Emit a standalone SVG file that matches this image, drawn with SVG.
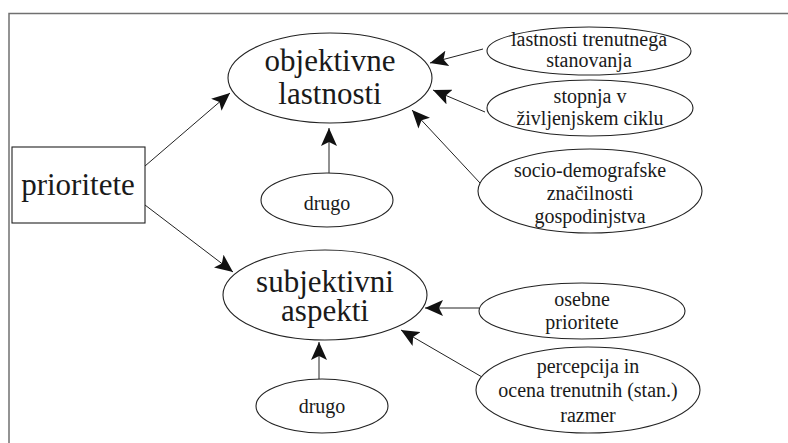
<svg xmlns="http://www.w3.org/2000/svg" width="788" height="443" viewBox="0 0 788 443">
<style>
.n{fill:#fff;stroke:#222;stroke-width:1.1}
.big{font-size:31px}
.sm{font-size:20px}
.c{stroke:#222;stroke-width:1;fill:none;marker-end:url(#ah)}
</style>
<defs>
<marker id="ah" markerUnits="userSpaceOnUse" markerWidth="18" markerHeight="16" refX="18" refY="8" orient="auto">
<path d="M0,0 L18,8 L0,16 L4,8 z" fill="#111"/>
</marker>
</defs>
<rect width="788" height="443" fill="#fff"/>
<g id="frame" stroke="#707070" stroke-width="1.5" fill="none">
<path d="M9,443 V13.5 H788"/>
</g>
<g id="connectors">
<line class="c" x1="145" y1="166" x2="230" y2="93"/>
<line class="c" x1="145" y1="205" x2="233" y2="272"/>
<line class="c" x1="329" y1="173" x2="329" y2="128"/>
<line class="c" x1="483" y1="49" x2="430" y2="63"/>
<line class="c" x1="485" y1="112" x2="433" y2="90"/>
<line class="c" x1="480" y1="183" x2="412" y2="110"/>
<line class="c" x1="319" y1="379" x2="319" y2="342"/>
<line class="c" x1="479" y1="308" x2="425" y2="308"/>
<line class="c" x1="482" y1="377" x2="401" y2="330"/>
</g>
<g font-family="Liberation Serif, Times New Roman, Times, serif" fill="#1a1a1a" text-anchor="middle">
<g id="prioritete">
<rect class="n" x="12" y="147" width="133" height="76"/>
<text class="big" x="78" y="195">prioritete</text>
</g>
<g id="objektivne">
<ellipse class="n" cx="330" cy="78" rx="102" ry="45"/>
<text class="big" x="330" y="71">objektivne</text>
<text class="big" x="330" y="104">lastnosti</text>
</g>
<g id="drugo1">
<ellipse class="n" cx="327" cy="200" rx="66" ry="27"/>
<text class="sm" x="327" y="210">drugo</text>
</g>
<g id="lastnosti">
<ellipse class="n" cx="589" cy="51" rx="102" ry="24"/>
<text class="sm" x="589" y="46">lastnosti trenutnega</text>
<text class="sm" x="589" y="67">stanovanja</text>
</g>
<g id="stopnja">
<ellipse class="n" cx="590" cy="108" rx="103" ry="28"/>
<text class="sm" x="590" y="103">stopnja v</text>
<text class="sm" x="590" y="125">življenjskem ciklu</text>
</g>
<g id="socio">
<ellipse class="n" cx="590" cy="191" rx="112" ry="42"/>
<text class="sm" x="590" y="177">socio-demografske</text>
<text class="sm" x="590" y="200">značilnosti</text>
<text class="sm" x="590" y="223">gospodinjstva</text>
</g>
<g id="subjektivni">
<ellipse class="n" cx="325" cy="295" rx="102" ry="45"/>
<text class="big" x="325" y="292">subjektivni</text>
<text class="big" x="325" y="321">aspekti</text>
</g>
<g id="drugo2">
<ellipse class="n" cx="322" cy="406" rx="66" ry="27"/>
<text class="sm" x="322" y="413">drugo</text>
</g>
<g id="osebne">
<ellipse class="n" cx="582" cy="311" rx="103" ry="28"/>
<text class="sm" x="582" y="306">osebne</text>
<text class="sm" x="582" y="329">prioritete</text>
</g>
<g id="percepcija">
<ellipse class="n" cx="588" cy="390" rx="112" ry="43"/>
<text class="sm" x="588" y="373">percepcija in</text>
<text class="sm" x="588" y="397">ocena trenutnih (stan.)</text>
<text class="sm" x="588" y="422">razmer</text>
</g>
</g>
</svg>
